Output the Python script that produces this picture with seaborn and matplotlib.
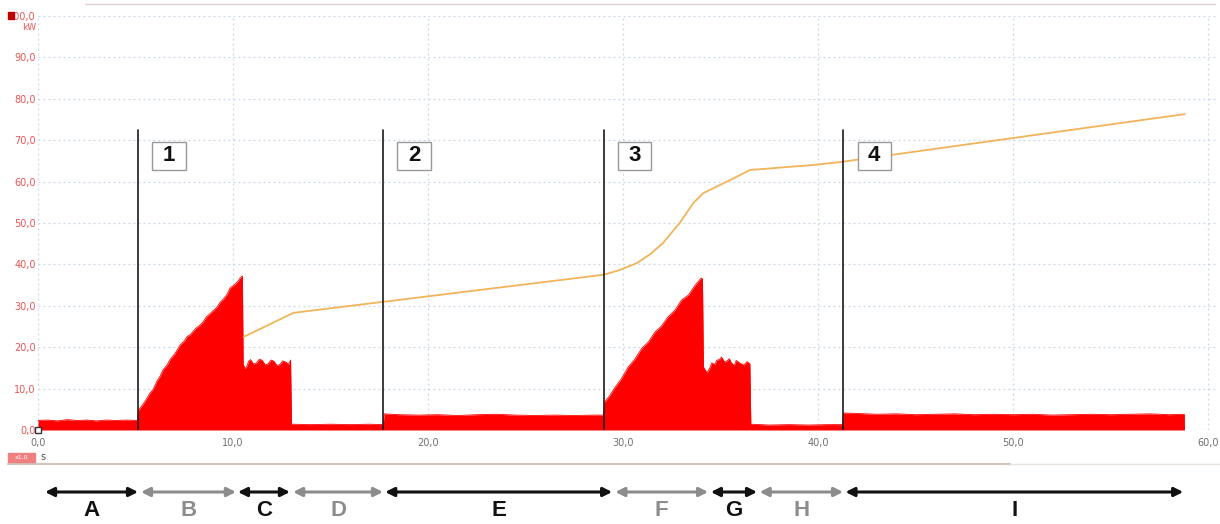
import matplotlib
matplotlib.use("Agg")
import matplotlib.pyplot as plt
import matplotlib.transforms as mtransforms
from matplotlib.lines import Line2D
from matplotlib.patches import Rectangle
import pandas as pd
import seaborn as sns

# ---- electrical power envelope (kW) over time (s) ----
t_power = [0.0, 0.5, 1.0, 1.5, 2.0, 2.5, 3.0, 3.5, 4.0, 4.5, 5.1,
           5.15, 5.35, 5.5, 5.74, 5.9, 6.1, 6.25, 6.41, 6.6, 6.8, 7.0, 7.13, 7.3, 7.5, 7.65, 7.8, 8.1, 8.3,
           8.46, 8.65, 8.8, 9.0, 9.18, 9.35, 9.5, 9.7, 9.85, 10.1, 10.25, 10.36, 10.48,
           10.52, 10.6, 10.7, 10.8, 10.9, 11.05, 11.2, 11.35, 11.5, 11.65, 11.8, 11.95, 12.1, 12.25, 12.4,
           12.55, 12.7, 12.85, 12.95,
           13.0, 14.0, 15.0, 16.0, 17.0, 17.7,
           17.75, 18.5, 19.5, 20.5, 21.5, 22.5, 23.5, 24.5, 25.5, 26.5, 27.5, 28.5, 29.0,
           29.05, 29.3, 29.6, 29.9, 30.26, 30.6, 30.97, 31.3, 31.64, 31.95, 32.3, 32.65, 33.0, 33.35, 33.7,
           34.0, 34.07,
           34.12, 34.3, 34.45, 34.55, 34.7, 34.8, 34.95, 35.05, 35.2, 35.3, 35.45, 35.55, 35.7, 35.8, 36.0,
           36.2, 36.35, 36.5,
           36.55, 37.5, 38.5, 39.5, 40.5, 41.25,
           41.3, 42.0, 43.0, 44.0, 45.0, 46.0, 47.0, 48.0, 49.0, 50.0, 51.0, 52.0, 53.0, 54.0, 55.0, 56.0, 57.0,
           58.0, 58.77,
           58.78]
p_power = [2.3, 2.4, 2.2, 2.5, 2.3, 2.4, 2.2, 2.4, 2.3, 2.4, 2.3,
           4.8, 6.0, 7.0, 8.9, 9.8, 11.8, 12.9, 14.5, 15.6, 17.2, 18.3, 19.3, 20.6, 21.5, 22.6, 23.0, 24.6, 25.3,
           26.1, 27.4, 28.0, 28.9, 29.7, 30.9, 31.6, 32.8, 34.3, 35.2, 35.9, 36.7, 37.2,
           16.0, 14.8, 15.3, 16.6, 17.0, 15.9, 16.2, 17.1, 16.8, 15.7, 16.0, 16.9, 16.6, 15.6, 15.8,
           16.7, 16.4, 15.9, 16.9,
           1.4, 1.3, 1.4, 1.3, 1.4, 1.3,
           3.9, 3.7, 3.6, 3.7, 3.5, 3.7, 3.8, 3.6, 3.5, 3.6, 3.5, 3.6, 3.6,
           6.8, 8.2, 10.4, 12.3, 15.2, 17.1, 19.8, 21.3, 23.7, 25.0, 27.3, 28.9, 31.4, 32.6, 35.0,
           36.7, 36.5,
           15.2, 13.8, 15.0, 16.2, 15.8, 16.8, 17.1, 17.6, 16.4, 16.6, 17.2, 16.2, 15.6, 16.8, 16.1,
           15.7, 16.5, 16.0,
           1.4, 1.2, 1.3, 1.2, 1.3, 1.3,
           4.1, 4.0, 3.8, 3.9, 3.7, 3.8, 3.9, 3.7, 3.8, 3.7, 3.8, 3.6, 3.7, 3.8, 3.7, 3.8, 3.9,
           3.7, 3.8,
           0.0]

# ---- second trace (orange) ----
t_trace = [10.55, 13.1, 29.0, 29.8, 30.7, 31.4, 32.05, 32.9, 33.6, 34.1, 35.5, 36.5, 39.7, 41.1, 58.8]
v_trace = [22.5, 28.3, 37.5, 38.6, 40.3, 42.5, 45.2, 50.0, 54.8, 57.2, 60.4, 62.8, 64.0, 64.7, 76.3]

# ---- event markers ----
event_times = [5.13, 17.7, 29.0, 41.3]
event_labels = ["1", "2", "3", "4"]

# ---- phase arrows below the chart ----
phase_names = ["A", "B", "C", "D", "E", "F", "G", "H", "I"]
phase_start = [0.36, 5.28, 10.25, 13.08, 17.8, 29.6, 34.5, 37.0, 41.4]
phase_end = [5.13, 10.15, 12.92, 17.69, 29.44, 34.36, 36.87, 41.28, 58.72]
phase_dark = [True, False, True, False, True, False, True, False, True]

y_ticks = [0, 10, 20, 30, 40, 50, 60, 70, 80, 90, 100]
x_ticks = [0, 10, 20, 30, 40, 50, 60]

sns.set_theme(style="white")
plt.rcParams["font.family"] = ["DejaVu Sans"]

W, H = 1220, 524
fig = plt.figure(figsize=(W / 100, H / 100), dpi=100)
fig.patch.set_facecolor("white")
ax = fig.add_axes([38 / W, (H - 430) / H, 1178 / W, 414 / H])

ax.set_xlim(0, 60.4)
ax.set_ylim(0, 100)

# dotted grid
grid_kw = dict(color="#C9D7E6", lw=0.9, ls=(0, (1.5, 2.5)), zorder=0)
for yv in y_ticks:
    ax.axhline(yv, **grid_kw)
for xv in x_ticks:
    ax.axvline(xv, **grid_kw)

# power signal
ax.fill_between(t_power, 0, p_power, color="#FF0000", lw=0, zorder=2)
ax.plot(t_power, p_power, color="#FF0000", lw=0.6, zorder=2)

# orange trace
df_trace = pd.DataFrame({"t": t_trace, "v": v_trace})
sns.lineplot(data=df_trace, x="t", y="v", ax=ax, color="#F2B45A", lw=1.3, zorder=3, sort=False)

# event lines with numbered boxes to their right
box_dx, box_w, box_h, box_top = 0.72, 1.72, 6.8, 69.6
for t, lbl in zip(event_times, event_labels):
    ax.plot([t, t], [0, 72.5], color="#1a1a1a", lw=1.2, zorder=4)
    ax.add_patch(Rectangle((t + box_dx, box_top - box_h), box_w, box_h,
                           fc="white", ec="#9a9a9a", lw=1.0, zorder=5))
    ax.text(t + box_dx + box_w / 2, box_top - box_h / 2, lbl, ha="center", va="center",
            fontsize=16, fontweight="bold", family="Liberation Sans", color="#111111", zorder=6)

# origin marker
ax.plot([0], [0], marker="s", ms=5, mfc="white", mec="#333333", mew=1, clip_on=False, zorder=6)

# axes styling
for s in ax.spines.values():
    s.set_visible(False)
ax.set_xlabel("")
ax.set_ylabel("")
ax.set_yticks(y_ticks)
ax.set_yticklabels([f"{v:.1f}".replace(".", ",") for v in y_ticks])
ax.set_xticks(x_ticks)
ax.set_xticklabels([f"{v:.1f}".replace(".", ",") for v in x_ticks])
ax.tick_params(axis="y", length=0, pad=1.5, labelsize=7, labelcolor="#EE5555")
ax.tick_params(axis="x", length=0, pad=6, labelsize=7, labelcolor="#707070")
ax.grid(False)

# unit label and channel marker
fig.text(36 / W, 1 - 28 / H, "kW", ha="right", va="center", fontsize=6.5, color="#EE5555")
fig.add_artist(Rectangle((8 / W, 1 - 19 / H), 6 / W, 7 / H, transform=fig.transFigure,
                         color="#C00000", zorder=5))

# top frame line
fig.add_artist(Line2D([85 / W, 1215 / W], [1 - 4 / H, 1 - 4 / H], color="#DCCFCF", lw=1.0))

# x scale box, unit and scrollbar
fig.add_artist(Rectangle((8 / W, 1 - 462 / H), 27 / W, 9 / H, transform=fig.transFigure,
                         color="#F08080", zorder=5))
fig.text(21.5 / W, 1 - 457.5 / H, "x1,0", ha="center", va="center", fontsize=4.5, color="white", zorder=6)
fig.text(40 / W, 1 - 457.5 / H, "s", ha="left", va="center", fontsize=7, color="#555555")
fig.add_artist(Line2D([8 / W, 1010 / W], [1 - 464 / H, 1 - 464 / H], color="#CFC6BE", lw=1.6))
fig.add_artist(Line2D([1010 / W, 1220 / W], [1 - 464 / H, 1 - 464 / H], color="#E9E4DF", lw=1.0))

# phase arrows
blend = mtransforms.blended_transform_factory(ax.transData, fig.transFigure)
y_arrow = 1 - 492 / H
y_label = 1 - 511 / H
for name, t0, t1, dark in zip(phase_names, phase_start, phase_end, phase_dark):
    col = "#111111" if dark else "#8C8C8C"
    ax.annotate("", xy=(t1, y_arrow), xytext=(t0, y_arrow),
                xycoords=("data", "figure fraction"), textcoords=("data", "figure fraction"),
                arrowprops=dict(arrowstyle="<|-|>", color=col, lw=2.2, mutation_scale=13,
                                shrinkA=0, shrinkB=0),
                annotation_clip=False)
    ax.text((t0 + t1) / 2, y_label, name, transform=blend, ha="center", va="center",
            fontsize=16, fontweight="bold", family="Liberation Sans", color=col, clip_on=False)

fig.savefig("out.png", dpi=100)
